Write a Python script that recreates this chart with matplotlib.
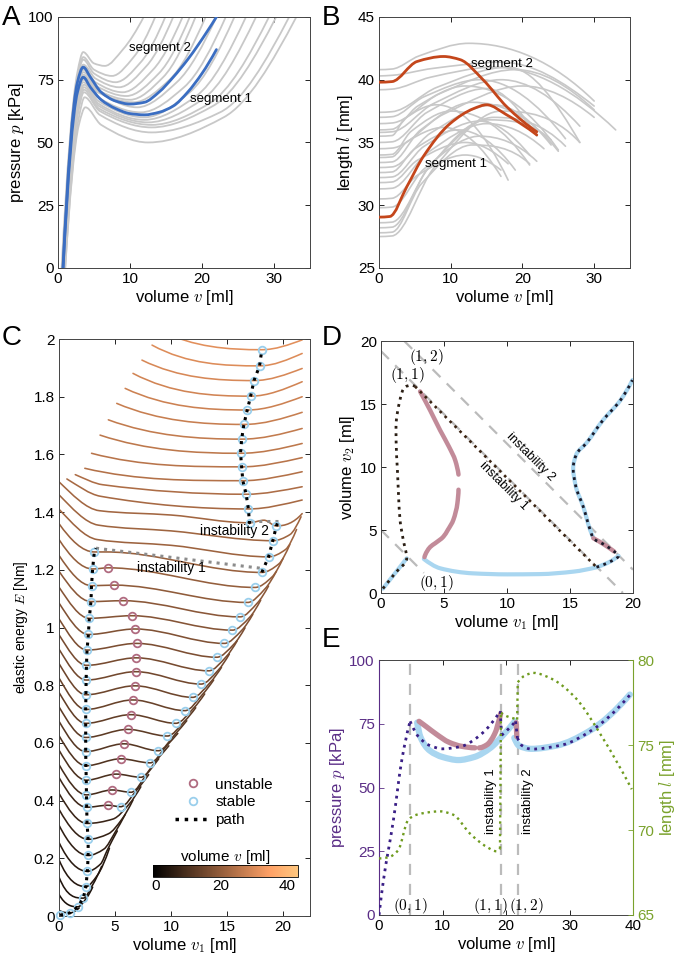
import numpy as np
import matplotlib
matplotlib.use("Agg")
import matplotlib.pyplot as plt
from matplotlib.path import Path
from matplotlib.patches import PathPatch
from matplotlib.lines import Line2D
from matplotlib.colors import Normalize
from matplotlib.cm import ScalarMappable

plt.rcParams['font.family'] = ['Liberation Sans', 'DejaVu Sans']
plt.rcParams['mathtext.fontset'] = 'cm'

# ---------------- A: pressure vs volume (all segments) ----------------
gray_pressure = [
    ([0.5, 2.7, 3.5, 5.0, 6.5, 9.0, 11.9], [0, 78, 86, 81.5, 80.5, 87, 100]),
    ([0.6, 2.7, 3.5, 5.0, 7.5, 10.5, 13.5], [0, 76, 84, 79, 76.5, 84, 100]),
    ([0.6, 2.7, 3.5, 5.0, 8.0, 11.5, 14.9], [0, 75, 83, 77.5, 74, 82, 100]),
    ([0.7, 2.7, 3.5, 5.2, 8.5, 12.3, 16.0], [0, 73, 81, 75.5, 72, 80.5, 100]),
    ([0.7, 2.7, 3.5, 5.2, 9.0, 13.2, 17.3], [0, 72, 80, 74, 70, 79, 100]),
    ([0.7, 2.7, 3.5, 5.3, 9.5, 14.0, 18.3], [0, 70, 78, 72.5, 68.5, 77.5, 100]),
    ([0.7, 2.7, 3.5, 5.4, 10.0, 14.6, 19.1], [0, 69, 77, 71, 67, 76, 100]),
    ([0.8, 2.7, 3.5, 5.5, 10.5, 15.5, 20.5], [0, 68, 76, 70, 66, 75, 100]),
    ([0.7, 2.7, 3.5, 5.4, 11.0, 16.5, 22.0], [0, 71, 79, 71, 64, 74, 100]),
    ([0.8, 2.7, 3.5, 5.5, 11.5, 17.5, 23.3], [0, 67, 75, 68, 62, 72, 100]),
    ([0.8, 2.7, 3.5, 5.6, 12.0, 18.3, 24.5], [0, 66, 74, 66.5, 60, 70, 100]),
    ([0.8, 2.8, 3.6, 5.6, 12.0, 19.2, 26.1], [0, 65, 73, 65.5, 59, 68.5, 100]),
    ([0.9, 2.8, 3.6, 5.7, 12.5, 20.0, 27.5], [0, 64, 72, 64.5, 58, 67, 100]),
    ([0.9, 2.8, 3.6, 5.7, 13.0, 21.0, 29.3], [0, 63, 71, 63.5, 57, 65.5, 100]),
    ([0.9, 2.8, 3.6, 5.8, 13.0, 21.5, 30.3], [0, 62, 70, 62.5, 56, 64.5, 100]),
    ([1.0, 2.9, 3.7, 5.8, 13.0, 22.5, 32.1], [0, 60, 68, 61, 54, 62, 100]),
    ([1.0, 2.9, 3.8, 6.0, 12.5, 23.0, 33.1], [0, 57, 64, 57, 50, 60, 100]),
]
seg1_p_v = [0.7, 2.7, 3.5, 4.5, 6, 8, 10, 12, 14, 16, 18, 20, 22]
seg1_p = [0, 70, 76, 72, 67, 63.5, 61.5, 61, 62, 64.5, 70, 77.5, 87]
seg2_p_v = [0.7, 2.7, 3.5, 4.5, 6, 8, 10, 12, 14, 16, 18, 19.5, 22]
seg2_p = [0, 74, 80, 76, 70, 66.5, 65.3, 66, 70, 76, 83, 89, 100]

# ---------------- B: length vs volume ----------------
gray_length = [
    ([0, 1.8, 5.6, 12.5, 30], [40.8, 40.85, 41.9, 42.9, 38.3]),
    ([0, 1.8, 7.5, 17, 30], [40.3, 40.35, 40.9, 41.4, 37.9]),
    ([0, 1.8, 7.2, 16, 33], [39.2, 39.25, 40.2, 41.0, 36.0]),
    ([0, 1.8, 8.1, 18, 28], [37.4, 37.45, 39.4, 41.0, 35.0]),
    ([0, 1.8, 6.3, 14, 26], [37.0, 37.05, 38.65, 40.0, 35.3]),
    ([0, 1.8, 8.5, 19, 30], [36.5, 36.55, 38.9, 40.8, 37.6]),
    ([0, 1.8, 5.4, 12, 25], [36.0, 36.05, 37.9, 39.5, 34.4]),
    ([0, 1.8, 7.6, 17, 28], [35.8, 35.85, 38.1, 40.0, 36.3]),
    ([0, 1.8, 3.6, 8, 18], [35.5, 35.55, 36.9, 38.0, 32.0]),
    ([0, 1.8, 6.7, 15, 22], [35.0, 35.05, 37.4, 39.3, 35.5]),
    ([0, 1.8, 9.0, 20, 30], [34.5, 34.55, 37.25, 39.5, 37.0]),
    ([0, 1.8, 4.5, 10, 21], [34.0, 34.05, 35.9, 37.5, 33.2]),
    ([0, 1.8, 4.0, 9, 17], [33.8, 33.85, 35.1, 36.2, 32.3]),
    ([0, 1.8, 5.8, 13, 25], [33.4, 33.45, 36.0, 38.2, 34.3]),
    ([0, 1.8, 7.2, 16, 24], [33.0, 33.05, 35.75, 38.0, 34.8]),
    ([0, 1.8, 5.0, 11, 19], [32.6, 32.65, 34.5, 36.0, 32.8]),
    ([0, 1.8, 6.3, 14, 21], [32.2, 32.25, 34.7, 36.7, 34.0]),
    ([0, 1.8, 5.4, 12, 18], [31.8, 31.85, 33.6, 35.0, 33.3]),
    ([0, 1.8, 6.8, 15, 23], [31.3, 31.35, 34.2, 36.5, 34.5]),
    ([0, 1.8, 5.4, 12, 17], [30.5, 30.55, 32.4, 34.0, 32.8]),
    ([0, 1.8, 6.3, 14, 22], [29.8, 29.85, 32.9, 35.5, 33.5]),
    ([0, 1.8, 7.2, 16, 26], [28.6, 28.65, 33.2, 37.0, 34.7]),
    ([0, 1.8, 6.8, 15, 24], [28.2, 28.25, 32.9, 36.8, 35.2]),
    ([0, 1.8, 5.9, 13, 21], [27.8, 27.85, 31.7, 34.8, 33.3]),
    ([0, 1.8, 7.7, 17, 28], [27.5, 27.55, 33.0, 37.5, 35.0]),
]
seg1_l_v = [0, 1.5, 3.9, 6.2, 9.9, 13.2, 15.0, 17.8, 22]
seg1_l = [29.05, 29.1, 31.5, 33.9, 36.5, 37.7, 38.0, 37.2, 35.6]
seg2_l_v = [0, 1.8, 5.3, 9.0, 11.3, 14.5, 17.8, 22]
seg2_l = [39.8, 39.85, 41.45, 41.85, 41.6, 40.0, 37.85, 35.85]

# ---------------- C: elastic energy landscapes ----------------
low_rows_v1 = [
    [0, 0.98, 1.8],
    [0, 1.67, 2.5, 3.0],
    [0, 2.17, 3.0, 3.8],
    [0, 2.4, 3.4, 4.5],
    [0, 2.53, 3.7, 4.3, 5.2],
    [0, 2.6, 4.0, 5.0, 5.9],
    [0, 2.6, 4.4, 5.6, 6.6],
    [0, 2.5, 4.8, 6.3, 7.3],
]
low_rows_E = [
    [0.02, 0.011, 0.028],
    [0.075, 0.032, 0.065, 0.10],
    [0.135, 0.062, 0.108, 0.172],
    [0.195, 0.102, 0.14, 0.235],
    [0.255, 0.155, 0.18, 0.228, 0.295],
    [0.315, 0.21, 0.232, 0.29, 0.352],
    [0.37, 0.266, 0.285, 0.335, 0.402],
    [0.425, 0.321, 0.336, 0.39, 0.448],
]
low_left_v1 = [0.09, 0.98, 1.67, 2.17, 2.4, 2.53, 2.6, 2.6, 2.5]
low_left_E = [0.003, 0.011, 0.032, 0.062, 0.102, 0.155, 0.21, 0.266, 0.321]

mid_start_E = [0.48, 0.525, 0.575, 0.625, 0.675, 0.725, 0.775, 0.825, 0.875,
               0.925, 0.975, 1.03, 1.085, 1.14, 1.195, 1.25, 1.305]
mid_left_v1 = [2.47, 2.45, 2.43, 2.4, 2.38, 2.38, 2.38, 2.38, 2.4, 2.42, 2.45,
               2.5, 2.62, 2.7, 2.85, 2.9, 3.0]
mid_left_E = [0.377, 0.42, 0.471, 0.521, 0.570, 0.619, 0.668, 0.716, 0.767,
              0.818, 0.869, 0.922, 0.976, 1.032, 1.09, 1.145, 1.203]
unstable_v1 = [4.35, 4.73, 5.12, 5.5, 5.8, 6.13, 6.4, 6.58, 6.76, 6.85, 6.9,
               6.93, 6.79, 6.49, 5.7, 4.9, 4.4]
unstable_E = [0.384, 0.437, 0.492, 0.545, 0.597, 0.647, 0.698, 0.749, 0.798,
              0.847, 0.895, 0.945, 0.995, 1.041, 1.093, 1.147, 1.207]
right_min_v1 = [5.5, 6.43, 7.3, 8.13, 8.87, 9.67, 10.42, 11.25, 11.93, 12.68,
                13.36, 14.08, 14.76, 15.48, 16.16, 16.84, 17.5]
right_min_E = [0.379, 0.429, 0.481, 0.531, 0.573, 0.624, 0.668, 0.712, 0.758,
               0.804, 0.850, 0.897, 0.945, 0.991, 1.037, 1.087, 1.139]
tail_v1 = [7.0, 7.9, 8.8, 9.6, 10.4, 11.2, 12.0, 12.8, 13.5, 14.2, 14.9, 15.6,
           16.3, 17.0, 17.7, 18.4, 19.0]
tail_E = [0.44, 0.495, 0.545, 0.59, 0.632, 0.675, 0.72, 0.768, 0.81, 0.852,
          0.898, 0.942, 0.99, 1.035, 1.085, 1.135, 1.175]
end_v1 = [8.0, 8.9, 9.8, 10.6, 11.4, 12.2, 13.0, 13.8, 14.5, 15.2, 15.9, 16.6,
          17.3, 18.0, 18.7, 19.4, 20.0]
end_E = [0.49, 0.545, 0.59, 0.633, 0.677, 0.722, 0.77, 0.818, 0.862, 0.908,
         0.954, 0.999, 1.046, 1.095, 1.144, 1.195, 1.24]

high_rows_v1 = [
    [0, 3.15, 4.2, 18.1, 19.6, 20.6],
    [0, 3.4, 10, 18.7, 20.2, 21.2],
    [0, 3.5, 10, 19.08, 20.6, 21.6],
    [0, 3.6, 10, 17.0, 18.3, 19.4, 21.7],
    [0.7, 3.7, 16.9, 21.7],
    [1.45, 3.9, 16.7, 21.7],
    [2.3, 16.4, 21.7],
    [2.9, 16.3, 21.7],
    [3.66, 16.2, 21.7],
    [4.4, 16.3, 21.7],
    [5.15, 16.5, 21.7],
    [5.9, 16.8, 21.7],
    [6.6, 17.1, 21.7],
    [7.4, 17.4, 21.7],
    [8.3, 17.9, 21.7],
    [9.0, 18.1, 21.7],
    [9.7, 18.4, 21.7],
]
high_rows_E = [
    [1.36, 1.262, 1.262, 1.191, 1.22, 1.288],
    [1.41, 1.305, 1.285, 1.245, 1.27, 1.34],
    [1.46, 1.355, 1.335, 1.301, 1.322, 1.384],
    [1.505, 1.405, 1.39, 1.363, 1.372, 1.352, 1.395],
    [1.515, 1.455, 1.411, 1.442],
    [1.53, 1.495, 1.462, 1.488],
    [1.552, 1.509, 1.54],
    [1.604, 1.557, 1.589],
    [1.667, 1.604, 1.638],
    [1.72, 1.653, 1.69],
    [1.777, 1.704, 1.746],
    [1.829, 1.754, 1.80],
    [1.881, 1.802, 1.852],
    [1.927, 1.856, 1.898],
    [1.979, 1.907, 1.95],
    [2.03, 1.963, 1.997],
    [2.08, 2.015, 2.05],
]
row_volume = [1.8, 3.0, 3.8, 4.5, 5.2, 5.9, 6.6, 7.3,
              8.0, 8.9, 9.8, 10.6, 11.4, 12.2, 13.0, 13.8, 14.5, 15.2, 15.9,
              16.6, 17.3, 18.0, 18.7, 19.4, 20.0,
              20.6, 21.2, 21.6, 22.0, 22.7, 23.5, 24.3, 25.0, 25.7, 26.4, 27.2,
              27.9, 28.6, 29.4, 30.2, 30.9, 31.6]

top_left_v1 = [3.15, 3.3]
top_left_E = [1.262, 1.275]
branch_b_v1 = [18.1, 18.7, 19.08, 19.4, 19.55]
branch_b_E = [1.191, 1.245, 1.301, 1.352, 1.368]
branch_c_v1 = [16.95, 17.0, 16.9, 16.7, 16.4, 16.3, 16.2, 16.3, 16.5, 16.8,
               17.1, 17.4, 17.9, 18.1]
branch_c_E = [1.368, 1.363, 1.411, 1.462, 1.509, 1.557, 1.604, 1.653, 1.704,
              1.754, 1.802, 1.856, 1.907, 1.963]
instab1_v1 = [3.3, 18.1]
instab1_E = [1.275, 1.205]
instab2_v1 = [19.55, 16.95]
instab2_E = [1.368, 1.368]

# ---------------- D: v1-v2 plane ----------------
d_dash_v1 = [[0, 3.4], [0, 19.2], [1.85, 20]]
d_dash_v2 = [[5, 1.6], [19.2, 0], [20, 1.85]]
d_pink = [
    ([3.1, 3.9, 4.7, 5.4, 5.9, 6.15], [16.0, 14.5, 12.9, 11.6, 10.5, 9.4]),
    ([6.15, 6.06, 5.74, 5.3, 4.95, 4.3, 3.9, 3.45], [8.2, 7.1, 5.8, 5.0, 4.47, 3.95, 3.65, 2.85]),
    ([18.5, 17.7, 16.85], [3.3, 3.85, 4.35]),
]
d_blue = [
    ([0.15, 1.1, 2.04], [0.35, 1.55, 2.75]),
    ([3.4, 4.7, 7.3, 10, 12.6, 15.3, 17.1], [2.7, 1.96, 1.56, 1.48, 1.5, 1.7, 2.04]),
    ([17.1, 18.1, 18.85], [2.05, 2.45, 2.95]),
    ([16.85, 16.6, 16.05, 15.45, 15.25, 15.5, 16.3, 17.6, 19.0, 19.95],
     [4.4, 5.0, 6.85, 8.5, 9.9, 11.0, 11.9, 13.7, 15.3, 16.9]),
]
d_path_left = ([0.15, 1.1, 2.04, 1.75, 1.51, 1.3, 1.2, 1.19, 1.5, 1.9, 2.43, 2.7],
               [0.35, 1.55, 2.75, 4.3, 5.8, 9.8, 12.0, 13.2, 15.3, 16.35, 16.5, 16.4])
d_path_jump = ([2.7, 17.1], [16.4, 2.05])
d_path_right = ([17.1, 18.1, 18.85, 18.5, 17.7, 16.85, 16.6, 16.05, 15.45, 15.25,
                 15.5, 16.3, 17.6, 19.0, 19.95],
                [2.05, 2.45, 2.95, 3.3, 3.85, 4.35, 5.0, 6.85, 8.5, 9.9, 11.0,
                 11.9, 13.7, 15.3, 16.9])

# ---------------- E: pressure and length along the path ----------------
e_marks_v = [4.85, 19.2, 21.85]
e_blue = [
    ([6.0, 6.5, 8, 10, 12.5, 15, 17.5, 19.5, 21.4], [75.5, 70, 64.5, 62, 60.8, 62, 65.5, 70.5, 76]),
    ([21.3, 22, 24, 28, 33, 39.5], [69.5, 66.5, 65.2, 66.5, 72, 86.5]),
]
e_pink = [
    ([6.3, 7.5, 9, 11, 13, 15.1], [76, 73.8, 71, 67.8, 66.2, 65.6]),
    ([15.8, 17.0, 18.2, 19.15], [65.6, 66.8, 71, 79]),
    ([21.6, 21.7], [75.5, 70]),
]
e_pressure = [
    ([0, 0.7, 2.25, 3.6, 4.9], [0, 13.7, 37, 61, 76]),
    ([4.9, 6.2, 8, 10, 13, 16.2, 19.1], [76, 70, 66.5, 65.2, 66.2, 71.2, 80]),
    ([19.1, 19.3], [80, 70.5]),
    ([19.3, 20.5, 21.5], [70.5, 73.3, 76]),
    ([21.5, 21.8], [76, 69.5]),
    ([21.8, 22.5, 24, 28.8, 33.5, 39.5], [69.5, 66.5, 65.1, 66.7, 72.5, 86.3]),
]
e_length = [
    ([0, 1.5, 3.0, 4.6, 5.9, 9.6, 11.7, 14.3, 17, 18.5, 19.05],
     [68.33, 68.4, 68.8, 70.6, 70.9, 71.1, 70.9, 69.8, 69.0, 68.75, 68.9]),
    ([19.05, 19.2], [68.9, 76.9]),
    ([19.2, 20.1, 21.4, 21.75], [76.9, 76.7, 76.55, 76.5]),
    ([21.75, 21.85], [76.5, 78.7]),
    ([21.85, 23.0, 24.3, 27.2, 30.9, 35.1, 39.8], [78.7, 79.1, 79.25, 78.9, 77.8, 75.5, 72.4]),
]

GRAY = '#C8C8C8'
BLUE = '#3B6EC2'
ORANGE = '#C4461B'
PINK = '#C28B99'
LIGHTBLUE = '#A9D6F0'
MK_PINK = '#B06B80'
MK_BLUE = '#9ACFEC'
PURPLE = '#5A2D86'
PURPLE_LINE = '#3A1F86'
GREEN = '#7AA22C'
GREEN_LINE = '#6F9B1F'
DASH = '#BBBBBB'


def end_slope(h0, h1, d0, d1):
    m = ((2 * h0 + h1) * d0 - h0 * d1) / (h0 + h1)
    if np.sign(m) != np.sign(d0):
        m = 0.0
    elif np.sign(d0) != np.sign(d1) and abs(m) > abs(3 * d0):
        m = 3 * d0
    return m


def pchip_slopes(t, y):
    h = np.diff(t)
    d = np.diff(y) / h
    n = len(y)
    m = np.zeros(n)
    if n == 2:
        m[:] = d[0]
        return m
    for k in range(1, n - 1):
        if d[k - 1] * d[k] > 0:
            w1 = 2 * h[k] + h[k - 1]
            w2 = h[k] + 2 * h[k - 1]
            m[k] = (w1 + w2) / (w1 / d[k - 1] + w2 / d[k])
    m[0] = end_slope(h[0], h[1], d[0], d[1])
    m[-1] = end_slope(h[-1], h[-2], d[-1], d[-2])
    return m


def smooth_line(ax, x, y, param=False, **kw):
    # smooth bezier path through the read points, drawn by matplotlib
    x = np.asarray(x, float)
    y = np.asarray(y, float)
    if param:
        t = np.concatenate([[0], np.cumsum(np.hypot(np.diff(x), np.diff(y)))])
        mx = pchip_slopes(t, x)
    else:
        t = x
        mx = np.ones_like(x)
    my = pchip_slopes(t, y)
    h = np.diff(t)
    verts = [(x[0], y[0])]
    codes = [Path.MOVETO]
    for k in range(len(x) - 1):
        verts += [(x[k] + mx[k] * h[k] / 3, y[k] + my[k] * h[k] / 3),
                  (x[k + 1] - mx[k + 1] * h[k] / 3, y[k + 1] - my[k + 1] * h[k] / 3),
                  (x[k + 1], y[k + 1])]
        codes += [Path.CURVE4] * 3
    dotted = kw.get('linestyle') == ':'
    kw.setdefault('capstyle', 'butt' if dotted else 'round')
    kw.setdefault('joinstyle', 'round')
    ax.add_patch(PathPatch(Path(verts, codes), fill=False, **kw))


def style_axes(ax):
    ax.tick_params(direction='in', length=3.5, width=0.6, top=True, right=True,
                   labelsize=11, pad=3)
    for s in ax.spines.values():
        s.set_color('#444444')
        s.set_linewidth(0.7)


fig = plt.figure(figsize=(6.8, 9.58), dpi=100)

# ---- A ----
ax = fig.add_axes([0.0853, 0.7203, 0.3706, 0.262])
for v, p in gray_pressure:
    smooth_line(ax, v, p, edgecolor=GRAY, linewidth=1.3, zorder=2)
smooth_line(ax, seg1_p_v, seg1_p, edgecolor=BLUE, linewidth=2.0, zorder=3)
smooth_line(ax, seg2_p_v, seg2_p, edgecolor=BLUE, linewidth=2.0, zorder=3)
ax.text(14.2, 87.6, 'segment 2', fontsize=9.5, ha='center', va='center', zorder=4)
ax.text(22.6, 67.3, 'segment 1', fontsize=9.5, ha='center', va='center', zorder=4)
ax.set_xlim(0, 35)
ax.set_ylim(0, 100)
ax.set_xticks([0, 10, 20, 30])
ax.set_yticks([0, 25, 50, 75, 100])
ax.set_xlabel('volume $v$ [ml]', fontsize=12, labelpad=1)
ax.set_ylabel('pressure $p$ [kPa]', fontsize=12, labelpad=2)
style_axes(ax)

# ---- B ----
ax = fig.add_axes([0.5574, 0.7203, 0.3691, 0.262])
for v, l in gray_length:
    smooth_line(ax, v, l, edgecolor=GRAY, linewidth=1.2, zorder=2)
smooth_line(ax, seg1_l_v, seg1_l, edgecolor=ORANGE, linewidth=2.0, zorder=3)
smooth_line(ax, seg2_l_v, seg2_l, edgecolor=ORANGE, linewidth=2.0, zorder=3)
ax.text(17.1, 41.25, 'segment 2', fontsize=9.5, ha='center', va='center', zorder=4)
ax.text(10.8, 33.3, 'segment 1', fontsize=9.5, ha='center', va='center', zorder=4)
ax.set_xlim(0, 35)
ax.set_ylim(25, 45)
ax.set_xticks([0, 10, 20, 30])
ax.set_yticks([25, 30, 35, 40, 45])
ax.set_xlabel('volume $v$ [ml]', fontsize=12, labelpad=1)
ax.set_ylabel('length $l$ [mm]', fontsize=12, labelpad=2)
style_axes(ax)

# ---- C ----
ax = fig.add_axes([0.0868, 0.0438, 0.3691, 0.6023])
cmap = plt.get_cmap('copper')
norm = Normalize(vmin=-0.8, vmax=43.5)
rows_v1 = list(low_rows_v1)
rows_E = list(low_rows_E)
for k in range(len(mid_left_E)):
    rows_v1.append([0, mid_left_v1[k], unstable_v1[k], right_min_v1[k], tail_v1[k], end_v1[k]])
    rows_E.append([mid_start_E[k], mid_left_E[k], unstable_E[k], right_min_E[k], tail_E[k], end_E[k]])
rows_v1 += high_rows_v1
rows_E += high_rows_E
for xs, es, vol in zip(rows_v1, rows_E, row_volume):
    smooth_line(ax, xs, es, edgecolor=cmap(norm(vol)), linewidth=1.15, zorder=2)

left_path_v1 = low_left_v1 + mid_left_v1 + top_left_v1
left_path_E = low_left_E + mid_left_E + top_left_E
ax.plot(instab1_v1, instab1_E, ':', color='#8C8C8C', lw=2.2, zorder=3)
ax.plot(instab2_v1, instab2_E, ':', color='#8C8C8C', lw=2.2, zorder=3)
stable_v1 = left_path_v1[:-1] + right_min_v1 + branch_b_v1[:-1] + branch_c_v1[1:]
stable_E = left_path_E[:-1] + right_min_E + branch_b_E[:-1] + branch_c_E[1:]
ax.plot(stable_v1, stable_E, 'o', mfc='none', mec=MK_BLUE, ms=5.5, mew=1.3,
        zorder=4, clip_on=False)
ax.plot(unstable_v1, unstable_E, 'o', mfc='none', mec=MK_PINK, ms=5.5, mew=1.3,
        zorder=4)
for pv, pe in [(left_path_v1, left_path_E), (branch_b_v1, branch_b_E),
               (branch_c_v1, branch_c_E)]:
    ax.plot(pv, pe, ':', color='black', lw=2.2, zorder=5)
ax.text(10.06, 1.205, 'instability 1', fontsize=10, ha='center', va='center', zorder=6)
ax.text(15.7, 1.336, 'instability 2', fontsize=10, ha='center', va='center', zorder=6)
handles = [Line2D([], [], ls='none', marker='o', mfc='none', mec=MK_PINK, ms=5.5, mew=1.3),
           Line2D([], [], ls='none', marker='o', mfc='none', mec=MK_BLUE, ms=5.5, mew=1.3),
           Line2D([], [], ls=':', color='black', lw=2.5)]
ax.legend(handles, ['unstable', 'stable', 'path'], loc='upper left',
          bbox_to_anchor=(0.462, 0.24), frameon=False, fontsize=11,
          handlelength=2.3, handletextpad=0.35, labelspacing=0.25, borderpad=0,
          borderaxespad=0)
ax.set_xlim(0, 22.4)
ax.set_ylim(0, 2)
ax.set_xticks([0, 5, 10, 15, 20])
ax.set_yticks([0, 0.2, 0.4, 0.6, 0.8, 1, 1.2, 1.4, 1.6, 1.8, 2])
ax.set_yticklabels(['0', '0.2', '0.4', '0.6', '0.8', '1', '1.2', '1.4', '1.6', '1.8', '2'])
ax.set_xlabel('volume $v_1$ [ml]', fontsize=12, labelpad=1)
ax.set_ylabel('elastic energy $E$ [Nm]', fontsize=10, labelpad=3)
style_axes(ax)

cax = fig.add_axes([0.2245, 0.0849, 0.214, 0.0122])
cb = fig.colorbar(ScalarMappable(norm=norm, cmap=cmap), cax=cax, orientation='horizontal')
cb.set_ticks([0, 20, 40])
cb.ax.tick_params(labelsize=11, length=0, pad=2)
cb.outline.set_linewidth(0.6)
cb.ax.xaxis.set_label_position('top')
cb.set_label('volume $v$ [ml]', fontsize=11, labelpad=3)

# ---- D ----
ax = fig.add_axes([0.5603, 0.381, 0.3706, 0.263])
for xs, ys in zip(d_dash_v1, d_dash_v2):
    ax.plot(xs, ys, color=DASH, lw=1.6, dashes=(5, 4), zorder=1)
for xs, ys in d_blue:
    smooth_line(ax, xs, ys, param=True, edgecolor=LIGHTBLUE, linewidth=3.0, zorder=2)
for xs, ys in d_pink:
    smooth_line(ax, xs, ys, param=True, edgecolor=PINK, linewidth=3.2, zorder=2)
smooth_line(ax, *d_path_left, param=True, edgecolor='#2A1E14', linewidth=2.0,
            linestyle=':', zorder=3)
ax.plot(*d_path_jump, ':', color='#3A2312', lw=1.9, zorder=3)
smooth_line(ax, *d_path_right, param=True, edgecolor='#1A1A2A', linewidth=2.0,
            linestyle=':', zorder=3)
ax.text(3.57, 18.7, '$(1,2)$', fontsize=11, ha='center', va='center')
ax.text(2.09, 17.3, '$(1,1)$', fontsize=11, ha='center', va='center')
ax.text(4.42, 0.77, '$(0,1)$', fontsize=11, ha='center', va='center')
ax.text(11.88, 10.82, 'instability 2', fontsize=9, ha='center', va='center',
        rotation=-45, rotation_mode='anchor')
ax.text(9.71, 8.52, 'instability 1', fontsize=9, ha='center', va='center',
        rotation=-45, rotation_mode='anchor')
ax.set_xlim(0, 20)
ax.set_ylim(0, 20)
ax.set_xticks([0, 5, 10, 15, 20])
ax.set_yticks([0, 5, 10, 15, 20])
ax.set_xlabel('volume $v_1$ [ml]', fontsize=12, labelpad=1)
ax.set_ylabel('volume $v_2$ [ml]', fontsize=12, labelpad=2)
style_axes(ax)

# ---- E ----
ax = fig.add_axes([0.5574, 0.0449, 0.3735, 0.266])
ax2 = ax.twinx()
for vm in e_marks_v:
    ax.plot([vm, vm], [0, 100], color=DASH, lw=1.6, dashes=(5, 4), zorder=1)
for xs, ys in e_blue:
    smooth_line(ax, xs, ys, edgecolor=LIGHTBLUE, linewidth=4.5, zorder=2)
for xs, ys in e_pink:
    smooth_line(ax, xs, ys, edgecolor=PINK, linewidth=3.8, zorder=2)
for xs, ys in e_pressure:
    smooth_line(ax, xs, ys, edgecolor=PURPLE_LINE, linewidth=2.0, linestyle=':', zorder=3)
for xs, ys in e_length:
    smooth_line(ax2, xs, ys, edgecolor=GREEN_LINE, linewidth=1.7, linestyle=':', zorder=3)
ax.text(4.9, 3.5, '$(0,1)$', fontsize=11, ha='center', va='center')
ax.text(17.6, 3.5, '$(1,1)$', fontsize=11, ha='center', va='center')
ax.text(23.2, 3.5, '$(1,2)$', fontsize=11, ha='center', va='center')
ax.text(17.7, 44.8, 'instability 1', fontsize=9.5, ha='center', va='center', rotation=90)
ax.text(23.5, 44.8, 'instability 2', fontsize=9.5, ha='center', va='center', rotation=90)
ax.set_xlim(0, 40)
ax.set_ylim(0, 100)
ax2.set_ylim(65, 80)
ax.set_xticks([0, 10, 20, 30, 40])
ax.set_yticks([0, 25, 50, 75, 100])
ax2.set_yticks([65, 70, 75, 80])
ax.set_xlabel('volume $v$ [ml]', fontsize=12, labelpad=1)
ax.set_ylabel('pressure $p$ [kPa]', fontsize=12, color=PURPLE, labelpad=2)
ax2.set_ylabel('length $l$ [mm]', fontsize=12, color=GREEN, labelpad=2)
ax.tick_params(direction='in', length=3.5, width=0.6, top=True, right=False,
               labelsize=11, pad=3)
ax.tick_params(axis='y', colors=PURPLE)
ax2.tick_params(direction='in', length=3.5, width=0.6, labelsize=11, pad=3,
                colors=GREEN)
for s in ['top', 'bottom']:
    ax.spines[s].set_color('#444444')
    ax.spines[s].set_linewidth(0.7)
ax.spines['left'].set_color(PURPLE)
ax.spines['left'].set_linewidth(0.8)
ax.spines['right'].set_visible(False)
ax2.spines['right'].set_color(GREEN)
ax2.spines['right'].set_linewidth(0.8)
for s in ['left', 'top', 'bottom']:
    ax2.spines[s].set_visible(False)

# panel letters
for letter, x, y in [('A', 0.003, 0.995), ('B', 0.473, 0.995), ('C', 0.003, 0.661),
                     ('D', 0.473, 0.661), ('E', 0.473, 0.346)]:
    fig.text(x, y, letter, fontsize=20, ha='left', va='top')

fig.savefig('out.png', dpi=100)
